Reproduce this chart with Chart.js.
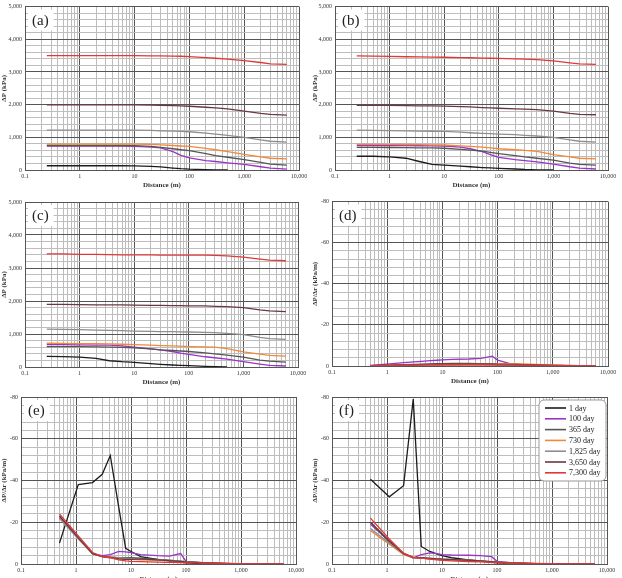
<!DOCTYPE html>
<html>
<head>
<meta charset="utf-8">
<script src="https://cdn.jsdelivr.net/npm/chart.js@4.4.1/dist/chart.umd.min.js"></script>
<style>
  html, body { margin: 0; padding: 0; background: #fff; overflow: hidden; }
  body { width: 622px; height: 578px; position: relative; }
  canvas { position: absolute; }
</style>
</head>
<body>
<canvas id="ca" width="311" height="192" style="left:0;top:0"></canvas>
<canvas id="cb" width="311" height="192" style="left:311px;top:0"></canvas>
<canvas id="cc" width="311" height="194" style="left:0;top:195px"></canvas>
<canvas id="cd" width="311" height="193" style="left:311px;top:195px"></canvas>
<canvas id="ce" width="311" height="201" style="left:0;top:385px"></canvas>
<canvas id="cf" width="311" height="201" style="left:311px;top:385px"></canvas>
<script>
// series labels / colours (same order in every panel)
const seriesNames = ['1 day', '100 day', '365 day', '730 day', '1,825 day', '3,650 day', '7,300 day'];
const seriesColors = ['#1c1c1c', '#9a34c6', '#555555', '#f0893a', '#8e8e8e', '#6a3840', '#e03838'];

// distances (m) for the pressure panels (a)-(c)
const xDist = [0.25, 0.5, 1, 2, 3.5, 6, 10, 20, 30, 50, 70, 100, 200, 300, 500, 1000, 2000, 3000, 6000];

// (a) pressure change, kPa
const aDay1    = [130, 130, 130, 130, 130, 130, 125, 110, 95, 60, 40, 25, 10, 3, 0, null, null, null, null];
const aDay100  = [730, 730, 730, 730, 730, 730, 720, 700, 680, 560, 450, 370, 290, 260, 220, 170, 100, 60, 25];
const aDay365  = [750, 750, 750, 750, 750, 750, 745, 720, 690, 650, 620, 590, 500, 440, 390, 320, 230, 180, 150];
const aDay730  = [790, 790, 790, 790, 790, 790, 790, 785, 770, 750, 735, 720, 660, 620, 560, 480, 400, 360, 340];
const aDay1825 = [1220, 1220, 1220, 1220, 1220, 1220, 1220, 1210, 1200, 1190, 1180, 1170, 1130, 1100, 1060, 1000, 920, 880, 850];
const aDay3650 = [1990, 1990, 1990, 1990, 1990, 1990, 1990, 1985, 1980, 1970, 1960, 1950, 1920, 1900, 1870, 1800, 1730, 1700, 1680];
const aDay7300 = [3500, 3500, 3500, 3500, 3500, 3500, 3500, 3495, 3490, 3485, 3480, 3470, 3440, 3420, 3390, 3350, 3290, 3250, 3230];

// (b)
const bDay1    = [420, 420, 400, 360, 260, 170, 150, 120, 100, 75, 62, 50, 30, 15, 5, 0, null, null, null];
const bDay100  = [750, 750, 748, 745, 742, 740, 735, 700, 650, 560, 470, 385, 320, 290, 250, 180, 100, 60, 30];
const bDay365  = [690, 690, 688, 685, 680, 675, 665, 630, 610, 580, 540, 500, 440, 400, 360, 300, 210, 170, 150];
const bDay730  = [785, 785, 782, 780, 775, 770, 765, 740, 720, 700, 680, 650, 620, 600, 570, 470, 400, 360, 340];
const bDay1825 = [1220, 1215, 1205, 1195, 1190, 1185, 1180, 1160, 1140, 1120, 1110, 1100, 1080, 1060, 1040, 1000, 920, 880, 850];
const bDay3650 = [1980, 1980, 1975, 1970, 1965, 1960, 1955, 1940, 1930, 1910, 1900, 1890, 1870, 1860, 1850, 1800, 1730, 1700, 1690];
const bDay7300 = [3490, 3485, 3475, 3465, 3460, 3455, 3450, 3440, 3435, 3425, 3420, 3415, 3400, 3390, 3380, 3340, 3280, 3250, 3230];

// (c)
const cDay1    = [320, 315, 300, 260, 190, 160, 140, 100, 80, 60, 50, 40, 20, 10, 0, null, null, null, null];
const cDay100  = [680, 675, 670, 665, 660, 640, 600, 550, 520, 470, 420, 380, 310, 280, 240, 160, 90, 50, 30];
const cDay365  = [620, 620, 615, 610, 605, 595, 580, 550, 520, 500, 485, 470, 430, 400, 360, 300, 210, 180, 150];
const cDay730  = [720, 715, 710, 705, 700, 690, 680, 660, 650, 640, 630, 620, 610, 600, 560, 460, 390, 350, 330];
const cDay1825 = [1150, 1140, 1130, 1120, 1110, 1100, 1090, 1080, 1075, 1070, 1065, 1060, 1050, 1040, 1020, 980, 900, 860, 840];
const cDay3650 = [1900, 1895, 1890, 1885, 1880, 1880, 1875, 1870, 1865, 1860, 1860, 1855, 1850, 1840, 1830, 1800, 1730, 1700, 1680];
const cDay7300 = [3430, 3425, 3415, 3410, 3405, 3400, 3400, 3395, 3390, 3390, 3390, 3390, 3390, 3385, 3370, 3330, 3270, 3240, 3220];

// distances (m) for the gradient panels (d)-(f)
const xGrad = [0.5, 1.1, 2, 3, 4.2, 6, 8, 10, 15, 30, 50, 80, 100, 200, 500, 1000, 3000, 6000];

// (d) pressure gradient, kPa/m
const dDay1    = [-0.1, -0.2, -0.3, -0.4, -0.5, -0.6, -0.6, -0.7, -0.7, -0.8, -0.8, -0.7, -0.6, -0.4, -0.1, 0, 0, 0];
const dDay100  = [-0.3, -1, -1.6, -2, -2.3, -2.6, -2.8, -3, -3.2, -3.4, -3.7, -4.8, -2.9, -0.6, -0.2, -0.1, 0, 0];
const dDay365  = [-0.2, -0.4, -0.6, -0.8, -0.9, -1, -1.1, -1.2, -1.3, -1.3, -1.2, -1.1, -1, -0.8, -0.3, -0.1, 0, 0];
const dDay730  = [-0.1, -0.2, -0.3, -0.4, -0.5, -0.6, -0.7, -0.8, -0.9, -1, -1.1, -1.1, -1.1, -1.2, -0.8, -0.4, -0.1, 0];
const dDay1825 = [-0.1, -0.2, -0.3, -0.4, -0.4, -0.5, -0.5, -0.6, -0.6, -0.6, -0.6, -0.6, -0.6, -0.6, -0.5, -0.4, -0.2, -0.1];
const dDay3650 = [-0.2, -0.3, -0.5, -0.6, -0.7, -0.8, -0.9, -1, -1, -1, -1, -1, -0.9, -0.8, -0.5, -0.3, -0.1, 0];
const dDay7300 = [-0.2, -0.3, -0.4, -0.5, -0.5, -0.6, -0.6, -0.6, -0.6, -0.6, -0.6, -0.6, -0.5, -0.5, -0.4, -0.3, -0.2, -0.1];

// (e)
const eDay1    = [-10, -38, -39, -43, -52, -27, -7.5, -6, -3.5, -2.2, -1.5, -1, -0.6, -0.2, 0, 0, 0, 0];
const eDay100  = [-23, -13, -5, -4, -4.5, -6, -5.8, -5.5, -4.5, -4, -3.8, -5, -1.3, -0.5, -0.2, 0, 0, 0];
const eDay365  = [-22, -12.5, -5, -3.5, -3.3, -3, -3, -3, -2.8, -2.2, -1.8, -1.3, -1, -0.5, -0.2, 0, 0, 0];
const eDay730  = [-22.5, -12.5, -5, -3.5, -3, -2.5, -2.3, -2.2, -2, -1.8, -1.6, -1.3, -1, -0.7, -0.3, -0.1, 0, 0];
const eDay1825 = [-22, -12, -5, -3.5, -3.3, -3, -2.8, -2.6, -2.3, -2, -1.7, -1.4, -1.1, -0.7, -0.3, -0.1, 0, 0];
const eDay3650 = [-23, -12.5, -5, -3.5, -3.2, -2.5, -2.2, -2.2, -2.5, -2, -1.6, -1.3, -1, -0.6, -0.3, -0.1, 0, 0];
const eDay7300 = [-24, -13.5, -5.5, -3.5, -3, -2, -1.5, -1.3, -1.1, -0.9, -0.8, -0.7, -0.6, -0.5, -0.3, -0.2, -0.1, 0];

// (f)
const fDay1    = [-40.6, -32.2, -37.5, -79, -8.4, -6, -4.8, -4, -3, -2, -1.5, -0.8, -0.5, -0.2, 0, 0, 0, 0];
const fDay100  = [-19, -11, -5, -3, -4.5, -5.3, -5, -4.5, -4.3, -4.2, -4, -3.5, -1.3, -0.5, -0.2, 0, 0, 0];
const fDay365  = [-20, -10.5, -5, -3, -2.8, -2.5, -2.4, -2.3, -2.2, -1.8, -1.4, -1, -0.8, -0.4, -0.1, 0, 0, 0];
const fDay730  = [-16, -9.5, -4.5, -3, -2.8, -2.6, -2.4, -2.2, -2, -1.7, -1.4, -1.1, -0.9, -0.5, -0.2, 0, 0, 0];
const fDay1825 = [-17, -10, -4.8, -3, -2.8, -2.6, -2.4, -2.2, -2, -1.7, -1.4, -1, -0.8, -0.4, -0.1, 0, 0, 0];
const fDay3650 = [-20, -11, -5, -3.2, -3, -2.8, -2.5, -2.3, -2.1, -1.8, -1.5, -1.1, -0.9, -0.5, -0.2, 0, 0, 0];
const fDay7300 = [-22, -12, -5.2, -3.2, -2.8, -2.3, -2, -1.8, -1.5, -1.2, -1, -0.8, -0.7, -0.5, -0.3, -0.2, -0.1, 0];

// log axis ticks 0.1 .. 10,000 (1..9 per decade)
const logTicks = [];
for (let e = -1; e < 4; e++) for (let m = 1; m < 10; m++) logTicks.push(+(m * Math.pow(10, e)).toPrecision(3));
logTicks.push(10000);

Chart.defaults.font.family = '"Liberation Serif", "Times New Roman", serif';
Chart.defaults.color = '#333';

const MAJOR = '#555555', MINOR = '#bdbdbd';
const isDecade = v => Math.abs(Math.log10(v) - Math.round(Math.log10(v))) < 1e-6;

const panelTag = {
  id: 'panelTag',
  beforeDatasetsDraw(chart, args, opts) {
    const {ctx, chartArea} = chart;
    ctx.save();
    ctx.font = '15px "Liberation Serif"';
    const w = ctx.measureText(opts.text).width;
    ctx.fillStyle = '#fff';
    ctx.fillRect(chartArea.left + 3, chartArea.top + 3, w + 9, 21);
    ctx.fillStyle = '#222';
    ctx.textBaseline = 'middle';
    ctx.fillText(opts.text, chartArea.left + 7, chartArea.top + 14);
    ctx.restore();
  }
};

const boxLegend = {
  id: 'boxLegend',
  afterDraw(chart, args, opts) {
    if (!opts.show) return;
    const {ctx, chartArea} = chart;
    const w = 67, h = 81;
    const x = chartArea.right - w - 1, y = chartArea.top + 3;
    ctx.save();
    ctx.beginPath();
    ctx.roundRect(x, y, w, h, 5);
    ctx.fillStyle = '#fff';
    ctx.fill();
    ctx.strokeStyle = '#999';
    ctx.lineWidth = 1;
    ctx.stroke();
    ctx.font = '8px "Liberation Serif"';
    ctx.textBaseline = 'middle';
    chart.data.datasets.forEach((ds, i) => {
      const yy = y + 8 + i * 10.8;
      ctx.strokeStyle = ds.borderColor;
      ctx.lineWidth = 1.6;
      ctx.beginPath();
      ctx.moveTo(x + 6, yy);
      ctx.lineTo(x + 27, yy);
      ctx.stroke();
      ctx.fillStyle = '#222';
      ctx.fillText(ds.label, x + 30, yy + 0.5);
    });
    ctx.restore();
  }
};

function makePanel(id, tag, xs, series, gradient, box) {
  const datasets = series.map((ys, i) => ({
    label: seriesNames[i],
    data: xs.map((x, j) => ({x: x, y: ys[j]})),
    borderColor: seriesColors[i],
    borderWidth: 1.3,
    pointRadius: 0,
    tension: 0,
    order: series.length - i
  }));
  const yScale = gradient ? {
    type: 'linear', min: -80, max: 0, reverse: true,
    ticks: { stepSize: 4, autoSkip: false, padding: 3, font: { size: 6 },
      callback: v => (v % 20 === 0 ? String(v) : '') },
    title: { display: true, text: 'ΔP/Δr (kPa/m)', font: { size: 7, weight: 'bold' }, padding: 0 }
  } : {
    type: 'linear', min: 0, max: 5000,
    ticks: { stepSize: 200, autoSkip: false, padding: 3, font: { size: 6 },
      callback: v => (v % 1000 === 0 ? v.toLocaleString('en-US') : '') },
    title: { display: true, text: 'ΔP (kPa)', font: { size: 7, weight: 'bold' }, padding: 0 }
  };
  yScale.grid = { drawTicks: false, color: c => (c.tick && (c.tick.value % (gradient ? 20 : 1000) === 0) ? MAJOR : MINOR) };
  yScale.border = { color: MAJOR };
  yScale.afterFit = s => { s.width = box.yw; };

  return new Chart(document.getElementById(id), {
    type: 'line',
    data: { datasets },
    options: {
      responsive: false,
      animation: false,
      layout: { padding: { left: 0, top: box.pt, right: box.pr, bottom: 0 } },
      plugins: {
        legend: { display: false },
        tooltip: { enabled: false },
        panelTag: { text: tag },
        boxLegend: { show: !!box.legend }
      },
      scales: {
        x: {
          type: 'logarithmic', min: 0.1, max: 10000,
          afterBuildTicks: s => { s.ticks = logTicks.map(v => ({ value: v })); },
          ticks: { autoSkip: false, maxRotation: 0, padding: 3, font: { size: 6 },
            callback: v => (isDecade(v) ? (v < 1 ? '0.1' : Math.round(v).toLocaleString('en-US')) : '') },
          grid: { drawTicks: false, color: c => (c.tick && isDecade(c.tick.value) ? MAJOR : MINOR) },
          border: { color: MAJOR },
          title: { display: true, text: 'Distance (m)', font: { size: 7, weight: 'bold' }, padding: { top: 2, bottom: 3 } },
          afterFit: s => { s.height = box.xh; }
        },
        y: yScale
      }
    },
    plugins: [panelTag, boxLegend]
  });
}

makePanel('ca', '(a)', xDist, [aDay1, aDay100, aDay365, aDay730, aDay1825, aDay3650, aDay7300], false, { yw: 25, pt: 6, pr: 12, xh: 22 });
makePanel('cb', '(b)', xDist, [bDay1, bDay100, bDay365, bDay730, bDay1825, bDay3650, bDay7300], false, { yw: 24, pt: 6, pr: 14, xh: 22 });
makePanel('cc', '(c)', xDist, [cDay1, cDay100, cDay365, cDay730, cDay1825, cDay3650, cDay7300], false, { yw: 25, pt: 7, pr: 13, xh: 22 });
makePanel('cd', '(d)', xGrad, [dDay1, dDay100, dDay365, dDay730, dDay1825, dDay3650, dDay7300], true, { yw: 21, pt: 6, pr: 14, xh: 22 });
makePanel('ce', '(e)', xGrad, [eDay1, eDay100, eDay365, eDay730, eDay1825, eDay3650, eDay7300], true, { yw: 21, pt: 12, pr: 15, xh: 22 });
makePanel('cf', '(f)', xGrad, [fDay1, fDay100, fDay365, fDay730, fDay1825, fDay3650, fDay7300], true, { yw: 21, pt: 12, pr: 15, xh: 22, legend: true });
</script>
</body>
</html>
